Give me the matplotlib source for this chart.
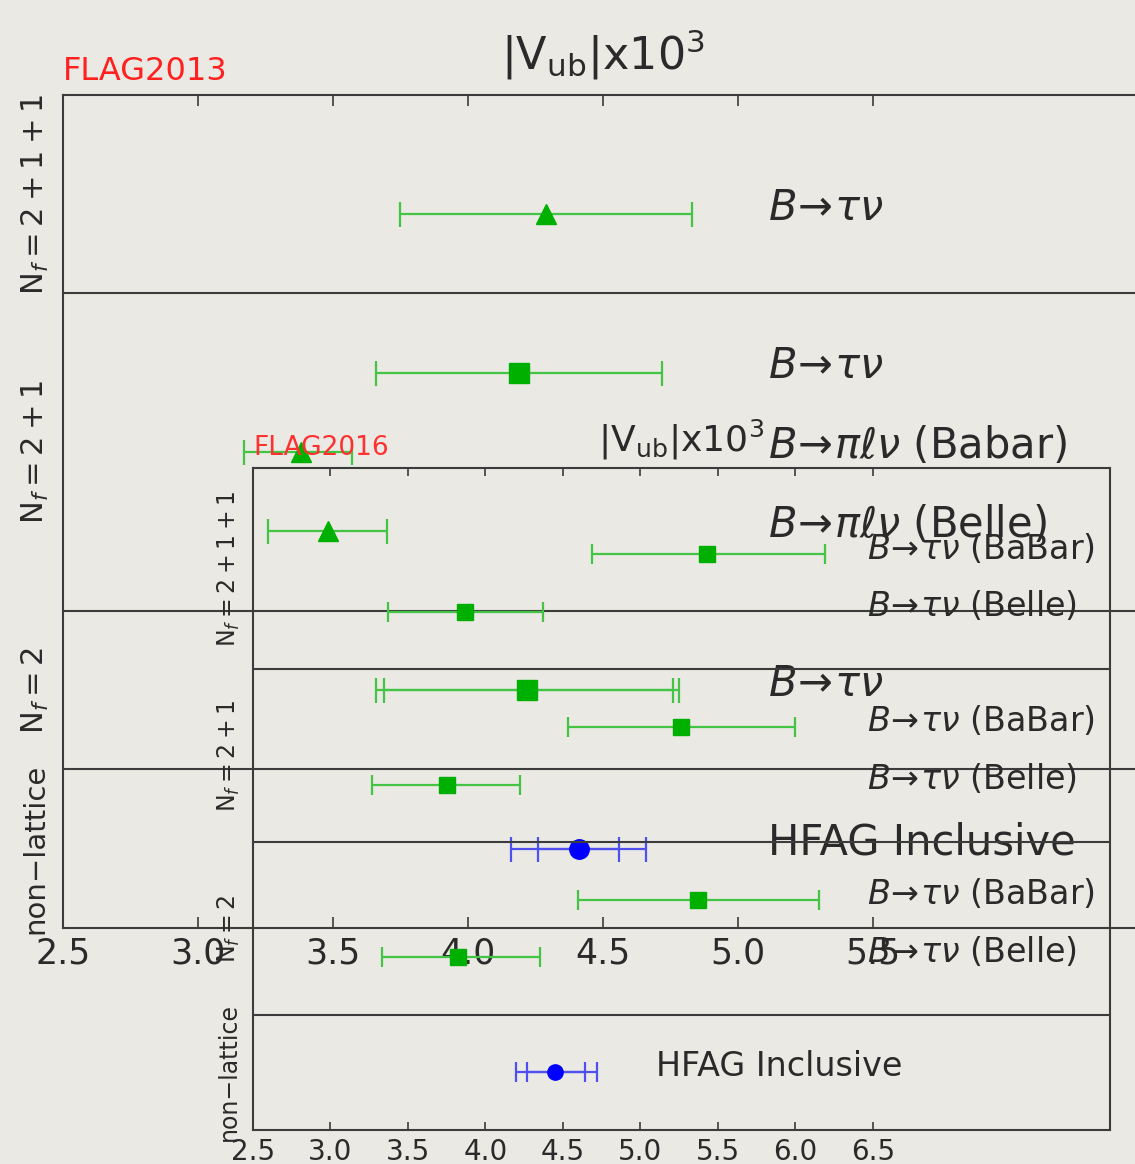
import numpy as np
import matplotlib.pyplot as plt

nan = np.nan

# ---- FLAG2013 panel (listed bottom to top) ----
f13_group = ['non-lattice', 'Nf=2', 'Nf=2+1', 'Nf=2+1', 'Nf=2+1', 'Nf=2+1+1']
f13_label = ['HFAG Inclusive', r'$B\!\to\!\tau\nu$', r'$B\!\to\!\pi\ell\nu$ (Belle)',
             r'$B\!\to\!\pi\ell\nu$ (Babar)', r'$B\!\to\!\tau\nu$', r'$B\!\to\!\tau\nu$']
f13_val = [4.41, 4.22, 3.48, 3.38, 4.19, 4.29]
f13_lo = [4.16, 3.66, 3.26, 3.17, 3.66, 3.75]
f13_hi = [4.66, 4.78, 3.70, 3.57, 4.72, 4.83]
f13_lo_in = [4.26, 3.69, nan, nan, nan, nan]
f13_hi_in = [4.56, 4.76, nan, nan, nan, nan]
f13_marker = ['o', 's', '^', '^', 's', '^']
f13_ticks = [2.5, 3.0, 3.5, 4.0, 4.5, 5.0, 5.5]

# ---- FLAG2016 panel (listed bottom to top) ----
f16_group = ['non-lattice', 'Nf=2', 'Nf=2', 'Nf=2+1', 'Nf=2+1', 'Nf=2+1+1', 'Nf=2+1+1']
f16_label = ['HFAG Inclusive', r'$B\!\to\!\tau\nu$ (Belle)', r'$B\!\to\!\tau\nu$ (BaBar)',
             r'$B\!\to\!\tau\nu$ (Belle)', r'$B\!\to\!\tau\nu$ (BaBar)',
             r'$B\!\to\!\tau\nu$ (Belle)', r'$B\!\to\!\tau\nu$ (BaBar)']
f16_val = [4.45, 3.82, 5.37, 3.75, 5.26, 3.87, 5.43]
f16_lo = [4.20, 3.33, 4.60, 3.27, 4.53, 3.37, 4.69]
f16_hi = [4.72, 4.35, 6.15, 4.22, 6.00, 4.37, 6.19]
f16_lo_in = [4.27, nan, nan, nan, nan, nan, nan]
f16_hi_in = [4.64, nan, nan, nan, nan, nan, nan]
f16_marker = ['o', 's', 's', 's', 's', 's', 's']
f16_ticks = [2.5, 3.0, 3.5, 4.0, 4.5, 5.0, 5.5, 6.0, 6.5]

group_text = {'non-lattice': 'non\u2212lattice', 'Nf=2': r'$\mathrm{N}_f=2$',
              'Nf=2+1': r'$\mathrm{N}_f=2+1$', 'Nf=2+1+1': r'$\mathrm{N}_f=2+1+1$'}

BG = '#ebe9e4'
INK = '#2a2a2a'
SPINE = '#3c3c3c'
GREEN, GREEN_LINE = '#00b000', '#44c444'
BLUE, BLUE_LINE = '#0000ff', '#5050f0'


def layout(groups):
    ys, seps = [], []
    y = 1
    for i, g in enumerate(groups):
        if i > 0 and g != groups[i - 1]:
            seps.append(y)
            y += 1
        ys.append(y)
        y += 1
    return ys, seps, y + 0.5


def panel(ax, groups, labels, val, lo, hi, lo_in, hi_in, markers, ticks, xlim,
          label_x, ms, cap, fs_lab, fs_tick, fs_grp, fs_nl, grp_pad, tick_len, lab_dy):
    ys, seps, top = layout(groups)
    for i, y in enumerate(ys):
        inclusive = markers[i] == 'o'
        mc = BLUE if inclusive else GREEN
        lc = BLUE_LINE if inclusive else GREEN_LINE
        ax.errorbar(val[i], y, xerr=[[val[i] - lo[i]], [hi[i] - val[i]]], fmt='none',
                    ecolor=lc, elinewidth=1.6, capsize=cap, capthick=1.6, zorder=2)
        if not np.isnan(lo_in[i]):
            ax.errorbar(val[i], y, xerr=[[val[i] - lo_in[i]], [hi_in[i] - val[i]]],
                        fmt='none', ecolor=lc, elinewidth=1.6, capsize=cap,
                        capthick=1.6, zorder=2)
        ax.plot(val[i], y, marker=markers[i], ms=ms, color=mc, mec=mc, ls='none', zorder=3)
        ax.text(label_x[i], y + lab_dy, labels[i], fontsize=fs_lab, color=INK,
                va='center', ha='left', zorder=4)
    for s in seps:
        ax.axhline(s, color=SPINE, lw=1.5, zorder=1)
    bounds = [0] + seps + [top]
    seen = []
    for g in groups:
        if g not in seen:
            seen.append(g)
    for k, g in enumerate(seen):
        yc = (bounds[k] + bounds[k + 1]) / 2
        ax.text(-grp_pad, yc, group_text[g], transform=ax.get_yaxis_transform(),
                rotation=90, va='center', ha='center', color=INK,
                fontsize=fs_nl if g == 'non-lattice' else fs_grp)
    ax.set_ylim(0, top)
    ax.set_xlim(*xlim)
    ax.set_xticks(ticks)
    ax.set_xticklabels(['%.1f' % t for t in ticks])
    ax.set_yticks([])
    ax.tick_params(axis='x', direction='in', top=True, bottom=True, length=tick_len,
                   width=1.2, color=SPINE, labelsize=fs_tick, labelcolor=INK, pad=6)
    for sp in ax.spines.values():
        sp.set_color(SPINE)
        sp.set_linewidth(1.5)
    ax.set_facecolor('none')


W, H = 1135, 1164
fig = plt.figure(figsize=(W / 100, H / 100), dpi=100, facecolor=BG)

# big panel (FLAG2013)
ax1 = fig.add_axes([63 / W, 1 - 928 / H, (1143 - 63) / W, (928 - 95) / H])
panel(ax1, f13_group, f13_label, f13_val, f13_lo, f13_hi, f13_lo_in, f13_hi_in,
      f13_marker, f13_ticks, (2.5, 6.5), [5.11] * len(f13_val), ms=14, cap=9,
      fs_lab=30, fs_tick=25, fs_grp=22, fs_nl=21, grp_pad=28 / 1080, tick_len=8,
      lab_dy=0.08)
ax1.set_title(r'$|\mathrm{V_{ub}}|$x10$^3$', fontsize=32, color=INK, pad=18)
ax1.text(0, 1.01, 'FLAG2013', transform=ax1.transAxes, color='#ff2020', fontsize=23,
         ha='left', va='bottom')

# inset panel (FLAG2016)
ax2 = fig.add_axes([253 / W, 1 - 1130 / H, (1110 - 253) / W, (1130 - 468) / H])
panel(ax2, f16_group, f16_label, f16_val, f16_lo, f16_hi, f16_lo_in, f16_hi_in,
      f16_marker, f16_ticks, (2.5, 8.03), [5.1] + [6.46] * 6, ms=11, cap=7,
      fs_lab=24, fs_tick=20, fs_grp=17, fs_nl=17, grp_pad=24 / 857, tick_len=6,
      lab_dy=0.1)
ax2.set_title(r'$|\mathrm{V_{ub}}|$x10$^3$', fontsize=26, color=INK, pad=12)
ax2.text(0, 1.01, 'FLAG2016', transform=ax2.transAxes, color='#ff3030', fontsize=19,
         ha='left', va='bottom')

fig.savefig('out.png', dpi=100, facecolor=BG)
